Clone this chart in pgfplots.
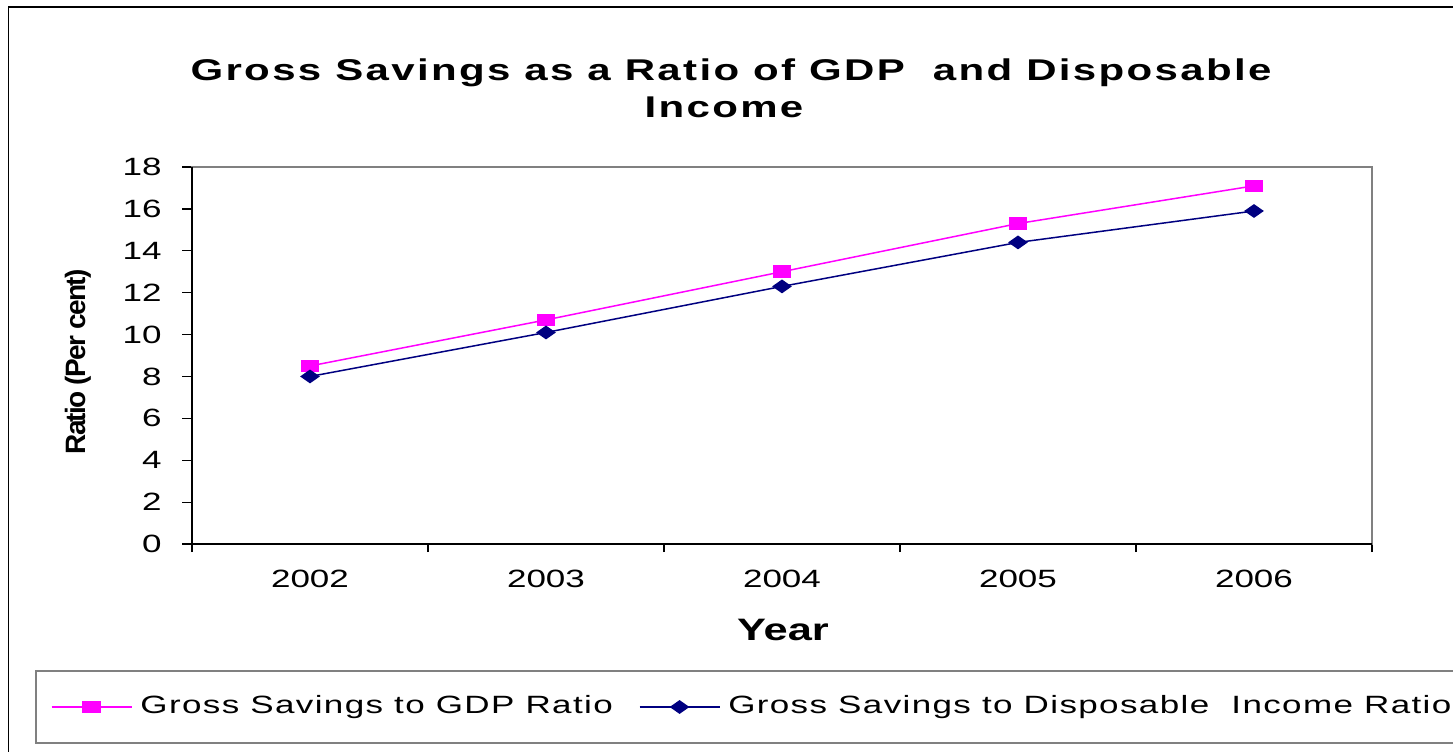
\documentclass[border=0pt]{standalone}
\usepackage{pgfplots}
\pgfplotsset{compat=1.18}
\usepackage{fontspec}
\setmainfont{Liberation Sans}[FakeStretch=1.4]
\newfontfamily\titlefont{Liberation Sans}[FakeStretch=1.4,LetterSpace=7.8]
\newfontfamily\legfont{Liberation Sans}[FakeStretch=1.4,LetterSpace=5.5]
\newfontfamily\ylabfont{Liberation Sans}[LetterSpace=-6]
\definecolor{navy}{HTML}{000080}
\definecolor{pink}{HTML}{FF00FF}
\definecolor{framegray}{HTML}{808080}
\begin{document}
\begin{tikzpicture}
\useasboundingbox (0pt,0pt) rectangle (726.5pt,-375.5pt);
\draw[line width=0.9pt,black,overlay] (4.25pt,-420pt) -- (4.25pt,-3.5pt) -- (800pt,-3.5pt);
\node[anchor=base,inner sep=0pt] at (365.5pt,-40pt) {\titlefont\bfseries\fontsize{15}{18}\selectfont Gross Savings as a Ratio of GDP\ \ and Disposable};
\node[anchor=base,inner sep=0pt] at (362pt,-58.5pt) {\titlefont\bfseries\fontsize{15}{18}\selectfont Income};
\node[anchor=base,inner sep=0pt] at (391.5pt,-320pt) {\bfseries\fontsize{15.5}{18}\selectfont Year};
\node[rotate=90,inner sep=0pt] at (39pt,-181pt) {\ylabfont\bfseries\fontsize{14}{16}\selectfont Ratio (Per cent)};
\begin{axis}[
  at={(96pt,-272pt)}, anchor=south west,
  scale only axis, width=590pt, height=188.5pt,
  xmin=-0.5, xmax=4.5, ymin=0, ymax=18,
  ytick={0,2,...,18},
  xtick={0,1,2,3,4},
  xticklabels={2002,2003,2004,2005,2006},
  minor xtick={-0.5,0.5,1.5,2.5,3.5,4.5},
  xtick pos=bottom, ytick pos=left,
  tick align=outside,
  major tick length=5pt, minor tick length=4pt,
  major x tick style={draw=none},
  minor x tick style={black,line width=0.6pt},
  major y tick style={black,line width=0.6pt},
  axis line style={draw=framegray,line width=0.9pt},
  /pgf/number format/assume math mode=true,
  tick label style={font=\fontsize{12.5}{15}\selectfont},
  yticklabel style={anchor=east,inner sep=0pt,xshift=-10pt},
  xticklabel style={anchor=base,inner sep=0pt,yshift=-16.5pt},
  clip=false,
  legend columns=2,
  legend style={at={(-0.1331,-0.3342)}, anchor=north west, draw=framegray, line width=1pt,
    overlay,
    inner xsep=7.5pt, inner ysep=12pt, column sep=4pt,
    font=\legfont\fontsize{12.5}{15}\selectfont,
    nodes={inner sep=0pt, text height=9pt, text depth=3pt}},
  legend image code/.code={\draw[mark repeat=2,mark phase=2,#1] plot coordinates {(0pt,0pt) (20pt,0pt) (40pt,0pt)};},
]
\addplot[color=pink, line width=0.75pt, mark=square*, mark size=2.75pt, mark options={xscale=1.55,solid}]
  coordinates {(0,8.5) (1,10.7) (2,13.0) (3,15.3) (4,17.1)};
\addlegendentry{Gross Savings to GDP Ratio\hspace*{9pt}\null}
\addplot[color=navy, line width=0.75pt, mark=diamond*, mark size=3pt, mark options={xscale=1.9,solid}]
  coordinates {(0,8.0) (1,10.1) (2,12.3) (3,14.4) (4,15.9)};
\addlegendentry{Gross Savings to Disposable\ \ Income Ratio}
\draw[black,line width=0.9pt] (rel axis cs:0,1) -- (rel axis cs:0,0) -- (rel axis cs:1,0);
\end{axis}
\end{tikzpicture}
\end{document}
